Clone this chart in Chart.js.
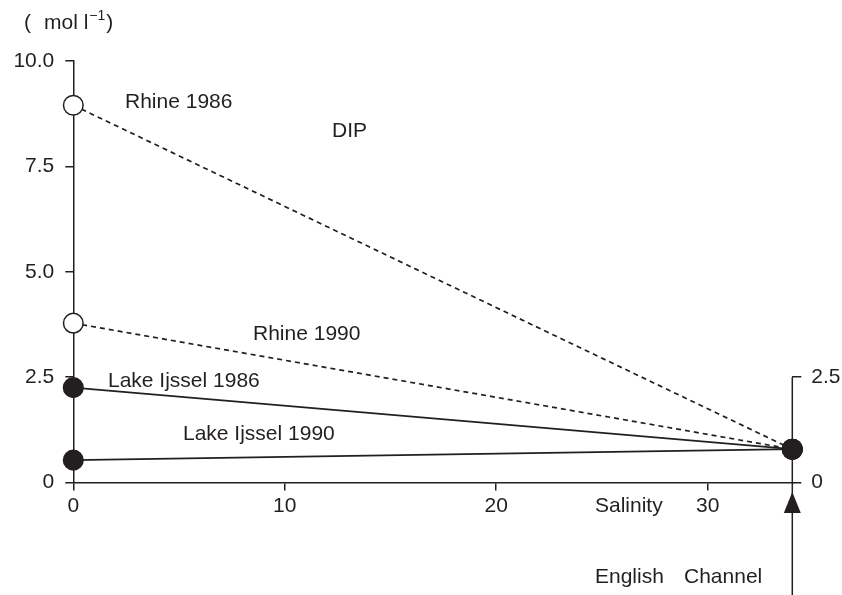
<!DOCTYPE html>
<html>
<head>
<meta charset="utf-8">
<script src="https://cdn.jsdelivr.net/npm/chart.js@4.4.1/dist/chart.umd.min.js"></script>
<style>
  html, body { margin: 0; padding: 0; background: #fff; }
  #wrap { width: 842px; height: 595px; }
</style>
</head>
<body>
<div id="wrap"><canvas id="myChart" width="842" height="595"></canvas></div>
<script>
// salinity at the river end and at the English Channel end
const salinity = [0, 34];
const rhine1986 = [8.95, 0.79];
const rhine1990 = [3.78, 0.79];
const ijssel1986 = [2.25, 0.79];
const ijssel1990 = [0.53, 0.79];

const xTicks = [0, 10, 20, 30];
const yTicks = [0, 2.5, 5, 7.5, 10];
const rightTicks = [0, 2.5];

const ink = "#231f20";
const font = '"Liberation Sans", Arial, sans-serif';

function pts(ys) {
  return salinity.map(function (x, i) { return { x: x, y: ys[i] }; });
}

function line(label, ys, dashed, open) {
  return {
    label: label,
    data: pts(ys),
    showLine: true,
    borderColor: ink,
    borderWidth: 1.7,
    borderDash: dashed ? [5, 4] : [],
    pointRadius: 9.8,
    pointHoverRadius: 9.8,
    pointBorderWidth: 1.5,
    pointBorderColor: ink,
    pointBackgroundColor: open ? ["#fff", ink] : [ink, ink],
    clip: false
  };
}

// labels, right axis and arrow
const extras = {
  id: "extras",
  afterDraw: function (chart) {
    let ctx = chart.ctx;
    let xs = chart.scales.x;
    let ys = chart.scales.y;
    let xr = xs.getPixelForValue(34);

    ctx.save();
    ctx.strokeStyle = ink;
    ctx.fillStyle = ink;
    ctx.lineWidth = 1.5;
    ctx.beginPath();
    ctx.moveTo(xr, ys.getPixelForValue(2.5));
    ctx.lineTo(xr, 595);
    ctx.stroke();

    let tip = ys.getPixelForValue(0) + 9.5;
    ctx.beginPath();
    ctx.moveTo(xr, tip);
    ctx.lineTo(xr - 8.5, tip + 21);
    ctx.lineTo(xr + 8.5, tip + 21);
    ctx.closePath();
    ctx.fill();

    ctx.font = "21px " + font;
    ctx.textBaseline = "alphabetic";
    ctx.textAlign = "left";
    ctx.fillText("Rhine 1986", 125, 108);
    ctx.fillText("DIP", 332, 137);
    ctx.fillText("Rhine 1990", 253, 340);
    ctx.fillText("Lake Ijssel 1986", 108, 387);
    ctx.fillText("Lake Ijssel 1990", 183, 440);
    ctx.fillText("Salinity", 595, 512);
    ctx.fillText("English", 595, 583);
    ctx.fillText("Channel", 684, 583);

    // unit
    let x = 24;
    ctx.fillText("(", x, 29);
    x = 44;
    ctx.fillText("mol l", x, 29);
    x += ctx.measureText("mol l").width + 1;
    ctx.font = "14px " + font;
    ctx.fillText("\u22121", x, 20);
    x += ctx.measureText("\u22121").width + 1;
    ctx.font = "21px " + font;
    ctx.fillText(")", x, 29);
    ctx.restore();
  }
};

new Chart("myChart", {
  type: "scatter",
  data: {
    datasets: [
      line("Rhine 1986", rhine1986, true, true),
      line("Rhine 1990", rhine1990, true, true),
      line("Lake Ijssel 1986", ijssel1986, false, false),
      line("Lake Ijssel 1990", ijssel1990, false, false)
    ]
  },
  options: {
    responsive: false,
    animation: false,
    layout: { padding: { top: 61, left: 0, right: 0, bottom: 0 } },
    plugins: {
      legend: { display: false },
      tooltip: { enabled: false },
      title: { display: false }
    },
    scales: {
      x: {
        type: "linear",
        position: "bottom",
        min: 0,
        max: 34,
        afterBuildTicks: function (s) { s.ticks = xTicks.map(function (v) { return { value: v }; }); },
        afterFit: function (s) { s.height = 112.5; },
        grid: { drawOnChartArea: false, tickLength: 8, color: ink, lineWidth: 1.5 },
        border: { display: true, color: ink, width: 1.5 },
        ticks: { color: ink, font: { family: font, size: 21 }, padding: 3, maxRotation: 0 }
      },
      y: {
        type: "linear",
        position: "left",
        min: 0,
        max: 10,
        afterBuildTicks: function (s) { s.ticks = yTicks.map(function (v) { return { value: v }; }); },
        afterFit: function (s) { s.width = 73.3; },
        grid: { drawOnChartArea: false, tickLength: 8, color: ink, lineWidth: 1.5 },
        border: { display: true, color: ink, width: 1.5 },
        ticks: {
          color: ink,
          font: { family: font, size: 21 },
          padding: 11,
          callback: function (v) { return v === 0 ? "0" : v.toFixed(1); }
        }
      },
      y2: {
        type: "linear",
        position: "right",
        min: 0,
        max: 10,
        afterBuildTicks: function (s) { s.ticks = rightTicks.map(function (v) { return { value: v }; }); },
        afterFit: function (s) { s.width = 49.7; },
        grid: { drawOnChartArea: false, tickLength: 9, color: ink, lineWidth: 1.5 },
        border: { display: false },
        ticks: {
          color: ink,
          font: { family: font, size: 21 },
          padding: 10,
          callback: function (v) { return v === 0 ? "0" : v.toFixed(1); }
        }
      }
    }
  },
  plugins: [extras]
});
</script>
</body>
</html>
